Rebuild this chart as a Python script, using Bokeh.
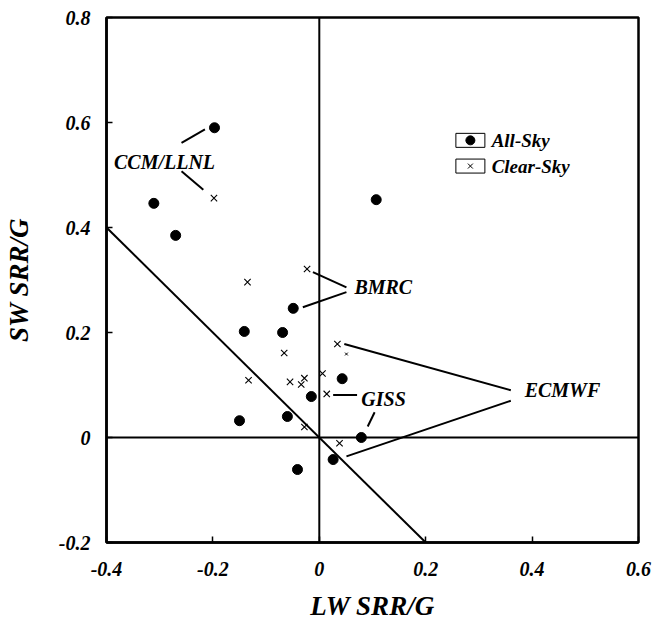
from bokeh.plotting import figure
from bokeh.models import Span, FixedTicker
from bokeh.core.properties import value
from bokeh.embed import file_html
from bokeh.resources import INLINE

# ---- data ----
ALL_X = [-0.197, -0.311, -0.270, 0.107, -0.049, -0.141, -0.069, -0.015,
         -0.150, -0.060, -0.041, 0.043, 0.079, 0.026]
ALL_Y = [0.590, 0.446, 0.385, 0.453, 0.246, 0.202, 0.200, 0.078,
         0.032, 0.040, -0.061, 0.112, 0.000, -0.042]

CLEAR_X = [-0.198, -0.135, -0.023, -0.066, -0.133, -0.055, -0.034, -0.028,
           0.006, 0.014, -0.028, 0.034, 0.038]
CLEAR_Y = [0.456, 0.296, 0.321, 0.161, 0.109, 0.106, 0.101, 0.113,
           0.122, 0.083, 0.020, 0.178, -0.011]
CLEAR_SMALL_X = [0.051]
CLEAR_SMALL_Y = [0.159]

DIAG_X = [-0.4, 0.2]
DIAG_Y = [-v for v in DIAG_X]

X_TICKS = [-0.4, -0.2, 0, 0.2, 0.4, 0.6]
X_LABELS = ["-0.4", "-0.2", "0", "0.2", "0.4", "0.6"]
Y_TICKS = [-0.2, 0, 0.2, 0.4, 0.6, 0.8]
Y_LABELS = ["-0.2", "0", "0.2", "0.4", "0.6", "0.8"]

# model annotations: name, text anchor (x, y)
MODEL_NAMES = ["CCM/LLNL", "BMRC", "GISS", "ECMWF"]
MODEL_TX = [-0.386, 0.066, 0.079, 0.386]
MODEL_TY = [0.524, 0.286, 0.074, 0.090]

# leader lines (x0, y0) -> (x1, y1)
LEAD_X0 = [-0.259, -0.259, -0.012, -0.031, 0.026, 0.104, 0.047, 0.051]
LEAD_Y0 = [0.561, 0.507, 0.315, 0.248, 0.081, 0.048, 0.178, -0.036]
LEAD_X1 = [-0.215, -0.218, 0.051, 0.051, 0.071, 0.091, 0.360, 0.360]
LEAD_Y1 = [0.587, 0.472, 0.286, 0.277, 0.081, 0.021, 0.090, 0.070]

LEGEND_LABELS = ["All-Sky", "Clear-Sky"]
LEGEND_Y = [0.566, 0.517]
LEGEND_BOX_X = 0.284
LEGEND_TEXT_X = 0.324

FONT = "Liberation Serif"

p = figure(width=655, height=630, x_range=(-0.4, 0.6), y_range=(-0.2, 0.8),
           output_backend="svg", toolbar_location=None,
           min_border_left=105, min_border_right=17,
           min_border_top=17, min_border_bottom=88)
p.background_fill_color = "white"
p.border_fill_color = "white"
p.grid.visible = False
p.outline_line_color = "black"
p.outline_line_width = 2.5

for ax in (p.xaxis[0], p.yaxis[0]):
    ax.major_label_text_font = FONT
    ax.major_label_text_font_style = "bold italic"
    ax.major_label_text_font_size = "20px"
    ax.major_label_text_color = "black"
    ax.axis_label_text_font = FONT
    ax.axis_label_text_font_style = "bold italic"
    ax.axis_label_text_font_size = "27px"
    ax.axis_label_text_color = "black"
    ax.major_tick_in = 6
    ax.major_tick_out = 0
    ax.minor_tick_line_color = None
    ax.axis_line_width = 2.5
    ax.major_tick_line_width = 1.5

p.xaxis.ticker = FixedTicker(ticks=X_TICKS)
p.xaxis.major_label_overrides = {t: l for t, l in zip(X_TICKS, X_LABELS)}
p.yaxis.ticker = FixedTicker(ticks=Y_TICKS)
p.yaxis.major_label_overrides = {t: l for t, l in zip(Y_TICKS, Y_LABELS)}
p.xaxis.axis_label = "LW SRR/G"
p.yaxis.axis_label = "SW SRR/G"
p.xaxis.major_label_standoff = 19
p.xaxis.axis_label_standoff = 12
p.yaxis.major_label_standoff = 16
p.yaxis.axis_label_standoff = 22

# zero lines
p.add_layout(Span(location=0, dimension="width", line_color="black", line_width=2))
p.add_layout(Span(location=0, dimension="height", line_color="black", line_width=2))

# diagonal
p.line(DIAG_X, DIAG_Y, line_color="black", line_width=2)

# leader lines
p.segment(x0=LEAD_X0, y0=LEAD_Y0, x1=LEAD_X1, y1=LEAD_Y1,
          line_color="black", line_width=2)

# data
p.scatter(ALL_X, ALL_Y, marker="circle", size=10, fill_color="black", line_color="black")
p.scatter(CLEAR_X, CLEAR_Y, marker="x", size=9, line_color="black", line_width=1.1)
p.scatter(CLEAR_SMALL_X, CLEAR_SMALL_Y, marker="x", size=4, line_color="black", line_width=1)

# model labels
p.text(x=MODEL_TX, y=MODEL_TY, text=MODEL_NAMES, text_font=value(FONT),
       text_font_style="bold italic", text_font_size="20px",
       text_align="left", text_baseline="middle", text_color="black")

# legend (boxed glyphs)
p.rect(x=[LEGEND_BOX_X] * 2, y=LEGEND_Y, width=29, height=14,
       width_units="screen", height_units="screen",
       fill_color="white", line_color="black", line_width=1)
p.scatter([LEGEND_BOX_X], [LEGEND_Y[0]], marker="circle", size=9, fill_color="black", line_color="black")
p.scatter([LEGEND_BOX_X], [LEGEND_Y[1]], marker="x", size=7, line_color="black", line_width=1)
p.text(x=[LEGEND_TEXT_X] * 2, y=LEGEND_Y, text=LEGEND_LABELS, text_font=value(FONT),
       text_font_style="bold italic", text_font_size="19px",
       text_align="left", text_baseline="middle", text_color="black")

open("out.html", "w").write(file_html(p, INLINE))
